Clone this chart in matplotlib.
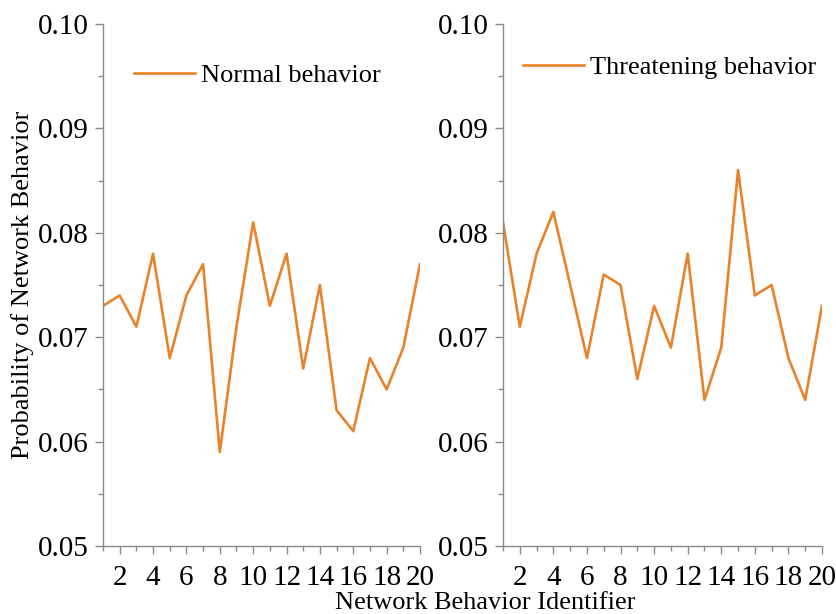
import matplotlib
matplotlib.use("Agg")
import matplotlib.pyplot as plt
from matplotlib.ticker import MultipleLocator, FixedLocator

plt.rcParams['font.family'] = ['Liberation Serif', 'DejaVu Serif']

ids = list(range(1, 21))
normal = [0.073, 0.074, 0.071, 0.078, 0.068, 0.074, 0.077, 0.059, 0.071, 0.081,
          0.073, 0.078, 0.067, 0.075, 0.063, 0.061, 0.068, 0.065, 0.069, 0.077]
threat = [0.081, 0.071, 0.078, 0.082, 0.075, 0.068, 0.076, 0.075, 0.066, 0.073,
          0.069, 0.078, 0.064, 0.069, 0.086, 0.074, 0.075, 0.068, 0.064, 0.073]
labels = ["Normal behavior", "Threatening behavior"]
color = "#E8832A"

fig = plt.figure(figsize=(8.37, 6.14), dpi=100)
ax1 = fig.add_axes([103/837, 1-546/614, 317/837, 522/614])
ax2 = fig.add_axes([503/837, 1-546/614, 319/837, 522/614])

legpos = [(0.065, 0.945), (0.03, 0.96)]
for ax, data, lab, lp in zip([ax1, ax2], [normal, threat], labels, legpos):
    ax.plot(ids, data, color=color, lw=1.9, label=lab)
    ax.set_xlim(1, 20)
    ax.set_ylim(0.05, 0.10)
    ax.xaxis.set_major_locator(FixedLocator(range(2, 21, 2)))
    ax.xaxis.set_minor_locator(FixedLocator(range(1, 21, 2)))
    ax.yaxis.set_major_locator(MultipleLocator(0.01))
    ax.yaxis.set_minor_locator(MultipleLocator(0.005))
    ax.yaxis.set_major_formatter(matplotlib.ticker.FormatStrFormatter('%.2f'))
    for s in ['top', 'right']:
        ax.spines[s].set_visible(False)
    for s in ['left', 'bottom']:
        ax.spines[s].set_color('#8a8a8a')
        ax.spines[s].set_linewidth(1.0)
    ax.tick_params(which='major', length=6, width=1, color='#8a8a8a', labelsize=21, labelcolor='black', pad=4)
    ax.tick_params(which='minor', length=3.5, width=1, color='#8a8a8a')
    ax.tick_params(axis='x', pad=8)
    ax.legend(loc='upper left', bbox_to_anchor=lp, frameon=False, fontsize=19,
              handlelength=2.3, handletextpad=0.25, borderaxespad=0)

ax1.set_ylabel("Probability of Network Behavior", fontsize=19, labelpad=3)
fig.text(485/837, 1-603/614, "Network Behavior Identifier", fontsize=19, ha='center', va='center')

fig.savefig("out.png", dpi=100)
